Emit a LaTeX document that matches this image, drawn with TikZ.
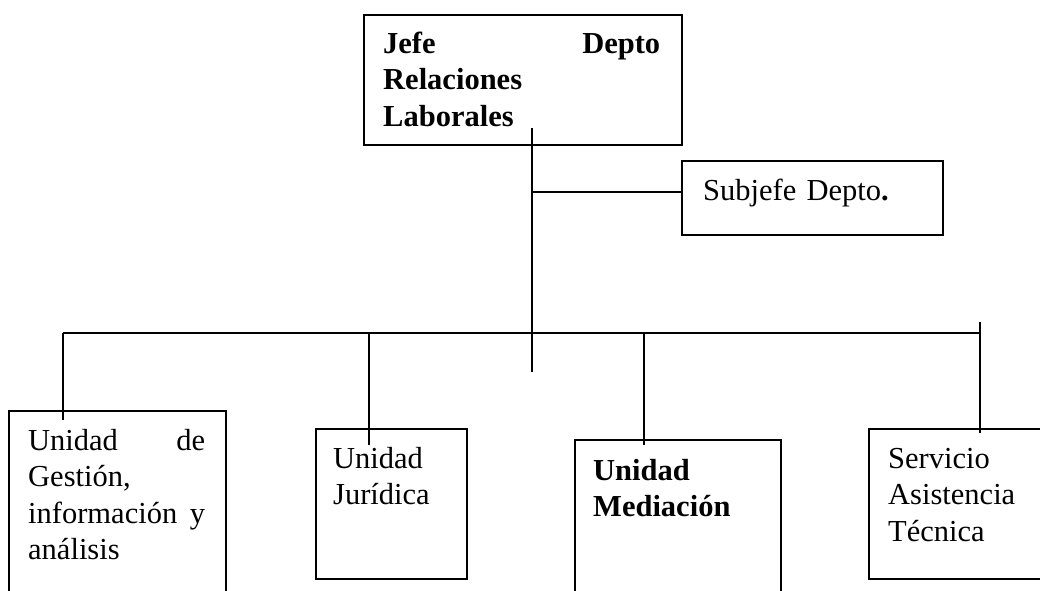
\documentclass[tikz,border=0pt]{standalone}
\usepackage{fontspec}
\setmainfont{Liberation Serif}
\begin{document}
\begin{tikzpicture}[x=1pt,y=-1pt,
  box/.style={draw,line width=1.6pt,inner sep=0pt,anchor=north west},
  txt/.style={inner sep=0pt,anchor=base west,align=left,
    font=\fontsize{30.5}{36.5}\selectfont},
  conn/.style={line width=1.6pt}]
\useasboundingbox (0,0) rectangle (1040,590);
\clip (0,0) rectangle (1040,590);
% boxes
\node[box,minimum width=318pt,minimum height=130pt] (boss) at (363,14) {};
\node[box,minimum width=261pt,minimum height=74pt] (sub) at (681,160) {};
\node[box,minimum width=217pt,minimum height=200pt] (ges) at (8,410) {};
\node[box,minimum width=151pt,minimum height=150pt] (jur) at (315,428) {};
\node[box,minimum width=206pt,minimum height=200pt] (med) at (574,439) {};
\node[box,minimum width=190pt,minimum height=150pt] (ser) at (868,428) {};
% texts
\node[txt,text width=277pt] (tboss) at (383,53) {\bfseries Jefe\hfill Depto\\Relaciones\\Laborales};
\node[txt,text width=230pt] (tsub) at (703,200) {Subjefe Depto\textbf{.}};
\node[txt,text width=177pt] (tges) at (28,450) {Unidad\hfill de\\Gestión,\\información\hfill y\\análisis};
\node[txt,text width=125pt] (tjur) at (333,468) {Unidad\\Jurídica};
\node[txt,text width=180pt] (tmed) at (593,480) {\bfseries Unidad\\Mediación};
\node[txt,text width=150pt] (tser) at (888,468) {Servicio\\Asistencia\\Técnica};
% connector coordinates
\coordinate (ttop) at (532,128);
\coordinate (tbot) at (532,372);
\coordinate (tsj) at (532,192);
\coordinate (busL) at (63,333);
\coordinate (busR) at (980,333);
\coordinate (rtop) at (980,322);
\coordinate (bg) at (63,420);
\coordinate (bj) at (369,445);
\coordinate (bm) at (644,445);
\coordinate (bs) at (980,433);
% connectors
\draw[conn] (ttop) -- (tbot);
\draw[conn] (tsj) -- (tsj -| sub.west);
\draw[conn] (busL) -- (busR);
\draw[conn] (busL) -- (bg);
\draw[conn] (bj |- busL) -- (bj);
\draw[conn] (bm |- busL) -- (bm);
\draw[conn] (rtop) -- (bs);
\end{tikzpicture}
\end{document}
